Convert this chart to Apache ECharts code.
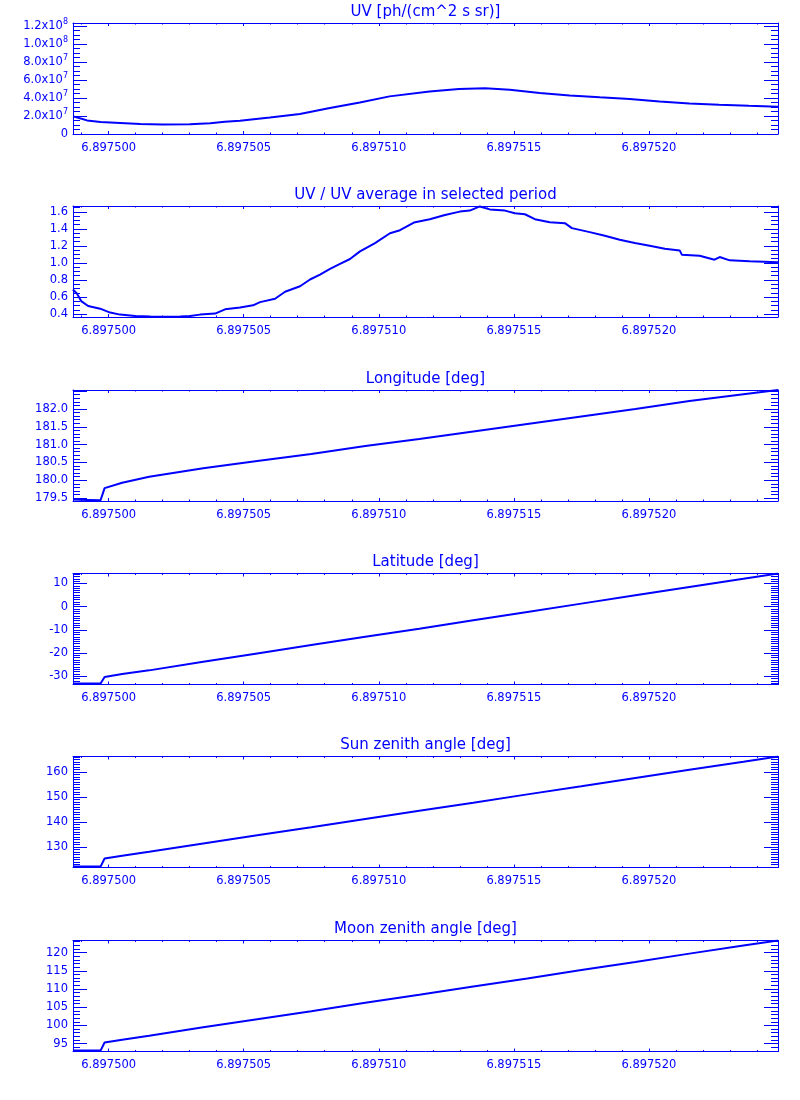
<!DOCTYPE html>
<html>
<head>
<meta charset="utf-8">
<script src="https://cdn.jsdelivr.net/npm/echarts@6/dist/echarts.min.js"></script>
<style>
  html, body { margin: 0; padding: 0; background: #ffffff; }
  #chart { width: 800px; height: 1100px; }
</style>
</head>
<body>
<div id="chart"></div>
<script>
// ---------------- DATA ----------------
// x values are offsets from X_BASE in units of X_UNIT
const X_BASE = 6.8975;
const X_UNIT = 1e-6;
const X_MIN = -1.32;
const X_MAX = 24.78;

// Panel 1: UV [ph/(cm^2 s sr)]
const xUV = [-1.32, -1.0, -0.8, -0.3, 0.43, 1.17, 2.0, 3.0, 3.76, 4.3, 4.86, 5.97, 7.08, 8.19, 9.30, 10.40,
             11.88, 12.97, 13.93, 14.85, 15.96, 17.07, 18.18, 19.29, 20.40, 21.5, 22.6, 23.7, 24.78];
const uvValues = [1.96e7, 1.70e7, 1.51e7, 1.33e7, 1.22e7, 1.10e7, 1.06e7, 1.07e7, 1.20e7, 1.35e7, 1.48e7, 1.84e7,
                  2.22e7, 2.89e7, 3.51e7, 4.18e7, 4.73e7, 5.00e7, 5.07e7, 4.92e7, 4.56e7, 4.29e7, 4.07e7, 3.89e7,
                  3.62e7, 3.40e7, 3.26e7, 3.14e7, 3.03e7];

// Panel 2: UV / UV average in selected period
const xRatio = [-1.324, -1.176, -1.017, -0.758, -0.314, 0.055, 0.425, 0.98, 1.535, 2.09, 2.645, 3.015, 3.385,
                3.94, 4.31, 4.865, 5.346, 5.605, 6.16, 6.53, 7.085, 7.455, 7.825, 8.195, 8.565, 8.935, 9.305,
                9.86, 10.415, 10.785, 11.30, 11.89, 12.45, 13.00, 13.37, 13.74, 14.11, 14.67, 15.04, 15.41,
                15.78, 16.33, 16.89, 17.15, 17.81, 18.37, 18.92, 19.48, 20.03, 20.59, 21.14, 21.22, 21.88,
                22.43, 22.62, 22.99, 23.73, 24.78];
const ratioValues = [0.689, 0.642, 0.552, 0.494, 0.463, 0.417, 0.393, 0.377, 0.370, 0.368, 0.370, 0.377, 0.393,
                     0.405, 0.455, 0.478, 0.502, 0.540, 0.580, 0.662, 0.727, 0.806, 0.864, 0.930, 0.990, 1.047,
                     1.136, 1.234, 1.350, 1.385, 1.475, 1.515, 1.565, 1.604, 1.616, 1.665, 1.630, 1.616, 1.585,
                     1.573, 1.515, 1.480, 1.468, 1.410, 1.363, 1.320, 1.273, 1.234, 1.203, 1.168, 1.148, 1.098,
                     1.086, 1.039, 1.070, 1.031, 1.019, 1.008];

// Panels 3-6: geometry
const xGeo = [-1.32, -0.8, -0.3, -0.15, 0.5, 1.5, 3.5, 5.5, 7.5, 9.5, 11.5, 13.5, 15.5, 17.5, 19.5, 21.5, 23.5, 24.78];
const lonValues = [179.46, 179.45, 179.44, 179.78, 179.93, 180.10, 180.34, 180.54, 180.74, 180.96, 181.16,
                   181.37, 181.58, 181.79, 182.00, 182.22, 182.41, 182.53];
const latValues = [-33.2, -33.2, -33.2, -30.35, -29.1, -27.5, -23.8, -20.2, -16.6, -13.0, -9.5, -5.9, -2.3,
                   1.3, 4.9, 8.5, 12.0, 14.3];
const sunZenith = [122.2, 122.2, 122.2, 125.45, 126.5, 128.1, 131.4, 134.7, 137.9, 141.2, 144.5, 147.7, 151.0,
                   154.2, 157.5, 160.8, 164.0, 166.1];
const moonZenith = [93.1, 93.1, 93.1, 95.3, 96.1, 97.2, 99.5, 101.7, 103.9, 106.2, 108.4, 110.7, 112.9, 115.2,
                    117.4, 119.7, 121.9, 123.3];

const titles = ['UV [ph/(cm^2 s sr)]', 'UV / UV average in selected period', 'Longitude [deg]',
                'Latitude [deg]', 'Sun zenith angle [deg]', 'Moon zenith angle [deg]'];

// ---------------- LAYOUT / STYLE ----------------
const BLUE = '#0000ff';
const FONT = '"DejaVu Sans", sans-serif';
const GRID_LEFT = 73, GRID_RIGHT = 22, GRID_H = 111;
const tops = [23, 206, 390, 573.5, 756.5, 940.5];

function sciLabel(v) {
  if (Math.abs(v) < 1e-9) return '{b|0}';
  const e = Math.floor(Math.log10(Math.abs(v)) + 1e-9);
  const m = (v / Math.pow(10, e)).toFixed(1);
  return '{b|' + m + 'x10}{s|' + e + '}';
}

const panels = [
  { xs: xUV, ys: uvValues, min: 0, max: 1.233e8, step: 2e7, minor: 4, fmt: sciLabel, showMin: true, rich: true },
  { xs: xRatio, ys: ratioValues, min: 0.365, max: 1.67, step: 0.2, minor: 4, fmt: v => v.toFixed(1) },
  { xs: xGeo, ys: lonValues, min: 179.42, max: 182.53, step: 0.5, minor: 5, fmt: v => v.toFixed(1), labelMax: 182.2 },
  { xs: xGeo, ys: latValues, min: -33.6, max: 14.3, step: 10, minor: 10, fmt: v => Math.round(v).toString() },
  { xs: xGeo, ys: sunZenith, min: 121.85, max: 166.1, step: 10, minor: 10, fmt: v => Math.round(v).toString() },
  { xs: xGeo, ys: moonZenith, min: 92.85, max: 123.3, step: 5, minor: 5, fmt: v => Math.round(v).toString() }
];

const grids = [], xAxes = [], yAxes = [], series = [], graphics = [];
const lineStyleAxis = { color: BLUE, width: 1 };

panels.forEach((p, i) => {
  grids.push({ left: GRID_LEFT, right: GRID_RIGHT, top: tops[i], height: GRID_H, containLabel: false });

  const xCommon = {
    type: 'value', gridIndex: i, min: X_MIN, max: X_MAX, minInterval: 5, maxInterval: 5,
    axisLine: { show: true, onZero: false, lineStyle: lineStyleAxis },
    axisTick: { show: true, inside: true, length: 3, lineStyle: lineStyleAxis },
    minorTick: { show: true, splitNumber: 5, length: 1.5, lineStyle: lineStyleAxis },
    splitLine: { show: false }, minorSplitLine: { show: false }
  };
  xAxes.push(Object.assign({}, xCommon, {
    position: 'bottom',
    axisLabel: {
      show: true, color: BLUE, fontFamily: FONT, fontSize: 11.5, margin: 8,
      showMinLabel: false, showMaxLabel: false,
      formatter: v => (X_BASE + v * X_UNIT).toFixed(6)
    }
  }));
  xAxes.push(Object.assign({}, xCommon, { position: 'top', axisLabel: { show: false } }));

  const yCommon = {
    type: 'value', gridIndex: i, min: p.min, max: p.max, minInterval: p.step, maxInterval: p.step,
    axisLine: { show: true, onZero: false, lineStyle: lineStyleAxis },
    axisTick: { show: true, inside: true, length: 14, lineStyle: lineStyleAxis },
    minorTick: { show: true, splitNumber: p.minor, length: 7, lineStyle: lineStyleAxis },
    splitLine: { show: false }, minorSplitLine: { show: false }
  };
  const labelMax = p.labelMax;
  const yLabel = {
    show: true, color: BLUE, fontFamily: FONT, fontSize: 11.5, margin: 5,
    showMinLabel: !!p.showMin, showMaxLabel: false,
    formatter: v => (labelMax != null && v > labelMax) ? '' : p.fmt(v)
  };
  if (p.rich) {
    yLabel.rich = {
      b: { color: BLUE, fontFamily: FONT, fontSize: 11.5 },
      s: { color: BLUE, fontFamily: FONT, fontSize: 8, padding: [0, 0, 9, 0] }
    };
  }
  yAxes.push(Object.assign({}, yCommon, { position: 'left', axisLabel: yLabel }));
  yAxes.push(Object.assign({}, yCommon, { position: 'right', axisLabel: { show: false } }));

  series.push({
    type: 'line', xAxisIndex: 2 * i, yAxisIndex: 2 * i,
    data: p.xs.map((x, k) => [x, p.ys[k]]),
    showSymbol: false, symbol: 'none', clip: true,
    lineStyle: { color: BLUE, width: 2 },
    itemStyle: { color: BLUE },
    animation: false
  });

  graphics.push({
    type: 'text', x: GRID_LEFT + (800 - GRID_LEFT - GRID_RIGHT) / 2, y: tops[i] - 11,
    style: {
      text: titles[i], fill: BLUE, font: '15px ' + FONT,
      textAlign: 'center', textVerticalAlign: 'middle', align: 'center', verticalAlign: 'middle'
    }
  });
});

const chart = echarts.init(document.getElementById('chart'), null, { renderer: 'canvas' });
chart.setOption({
  backgroundColor: '#ffffff',
  animation: false,
  grid: grids,
  xAxis: xAxes,
  yAxis: yAxes,
  series: series,
  graphic: graphics
});
</script>
</body>
</html>
